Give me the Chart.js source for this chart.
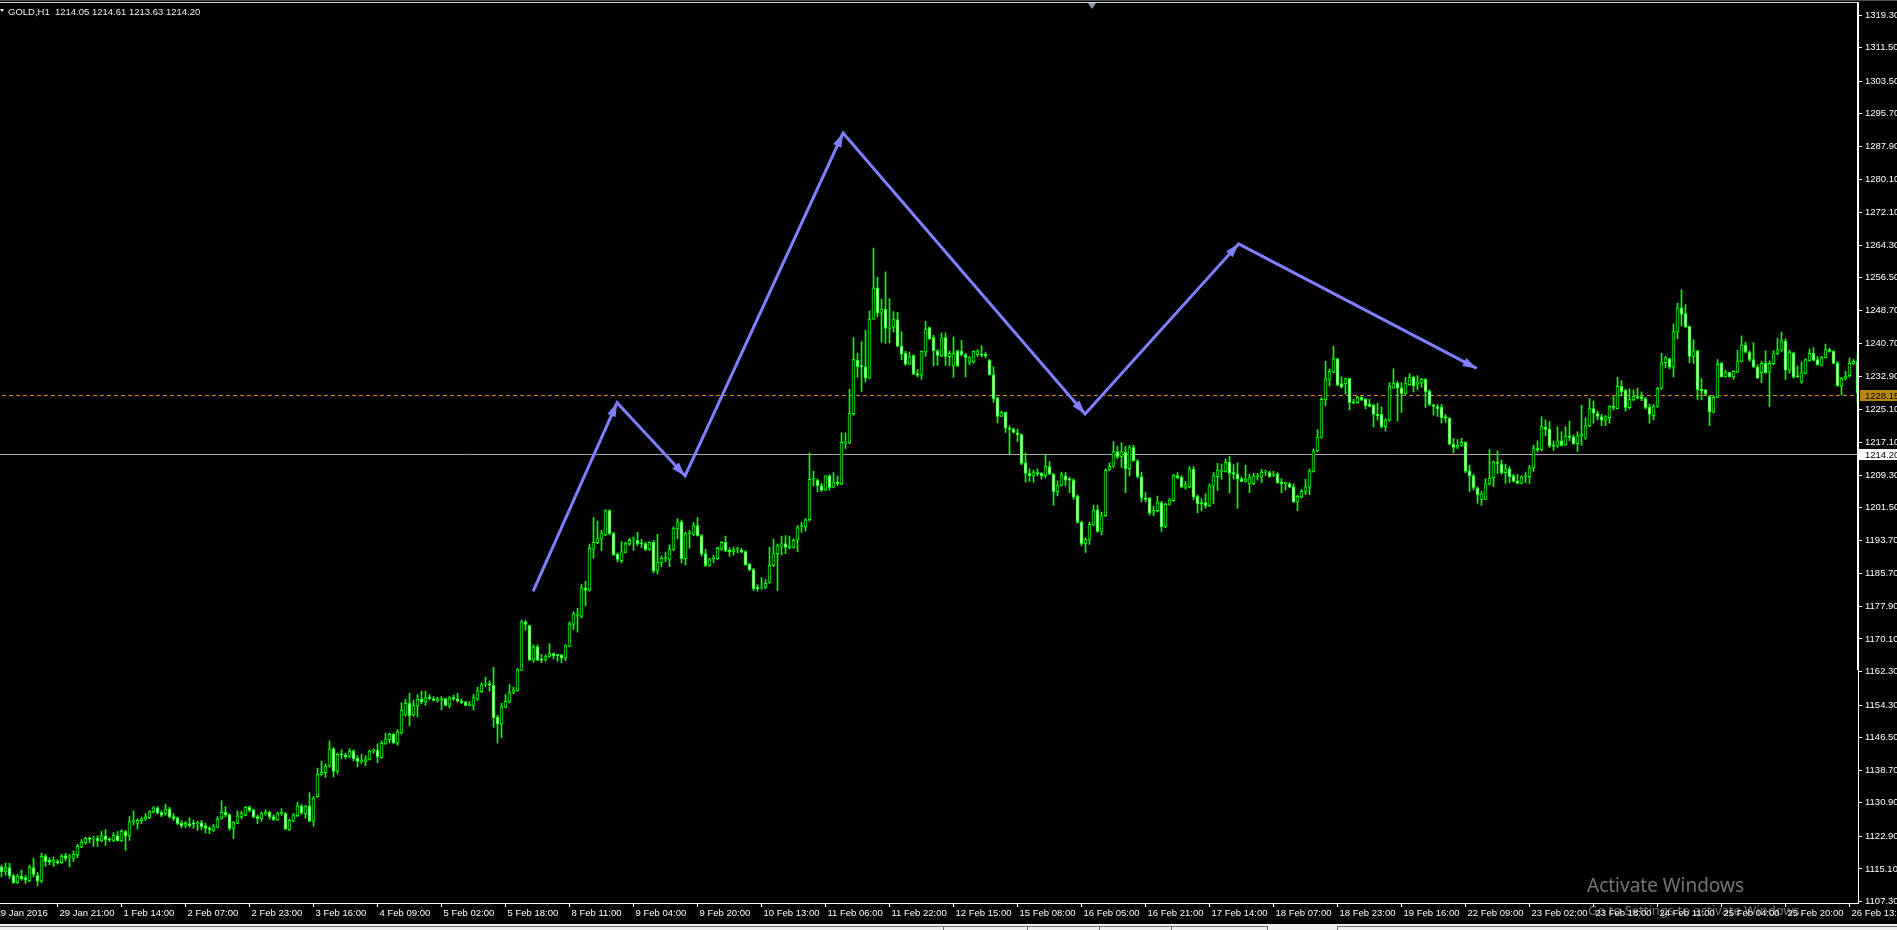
<!DOCTYPE html>
<html>
<head>
<meta charset="utf-8">
<title>GOLD,H1</title>
<script src="https://cdn.jsdelivr.net/npm/chart.js@4.4.1/dist/chart.umd.min.js"></script>
<style>
    html, body { margin: 0; padding: 0; background: #000; overflow: hidden; }
    #wrap { position: relative; width: 1897px; height: 930px; background: #000; }
    #gold_chart { position: absolute; left: 0; top: 0; }
    #header { position: absolute; left: 8px; top: 6px; color: #f0f0f0; font: 9.5px 'Liberation Sans', sans-serif; line-height: 11px; white-space: pre; }
    #menu_arrow { position: absolute; left: 0; top: 9px; width: 0; height: 0; border-left: 2px solid transparent; border-right: 2px solid transparent; border-top: 3px solid #fff; }
    #shift_mark { position: absolute; left: 1088px; top: 3px; width: 0; height: 0; border-left: 4px solid transparent; border-right: 4px solid transparent; border-top: 6px solid #8b9bab; }
    #wm1 { position: absolute; left: 1587px; top: 874px; color: rgba(255,255,255,0.45); font: 19px 'Noto Sans', sans-serif; line-height: 22px; white-space: nowrap; }
    #wm2 { position: absolute; left: 1588px; top: 902px; color: rgba(255,255,255,0.45); font: 13px 'Noto Sans', sans-serif; line-height: 16px; white-space: nowrap; }
    #tabs { position: absolute; left: 0; top: 924px; width: 1897px; height: 6px; background: #f0f0f0; }
    .tabline { position: absolute; top: 2px; height: 4px; border-top: 1px solid #6d6d6d; border-left: 1px solid #6d6d6d; }
</style>
</head>
<body>
<div id="wrap">
    <canvas id="gold_chart" width="1897" height="930"></canvas>
    <div id="menu_arrow"></div>
    <div id="header">GOLD,H1  1214.05 1214.61 1213.63 1214.20</div>
    <div id="shift_mark"></div>
    <div id="wm1">Activate Windows</div>
    <div id="wm2">Go to Settings to activate Windows.</div>
    <div id="tabs">
        <div class="tabline" style="left:0;width:943px;border-left:none"></div>
        <div class="tabline" style="left:943px;width:84px"></div>
        <div class="tabline" style="left:1027px;width:72px"></div>
        <div class="tabline" style="left:1099px;width:72px"></div>
        <div class="tabline" style="left:1171px;width:95px;border-right:1px solid #6d6d6d"></div>
        <div class="tabline" style="left:1337px;width:560px"></div>
    </div>
</div>
<script>
// GOLD H1 candles, 29 Jan 2016 - 26 Feb 2016
var opens = [
    1115.6, 1114.4, 1115.4, 1113.5, 1111.8, 1113.4, 1113.0, 1112.2, 1115.4, 1113.5,
    1112.2, 1118.1, 1117.2, 1116.5, 1116.8, 1116.6, 1118.3, 1117.9, 1117.6, 1118.4,
    1120.3, 1121.3, 1122.4, 1122.2, 1122.4, 1121.8, 1123.0, 1122.1, 1121.9, 1123.0,
    1121.8, 1124.0, 1123.0, 1126.4, 1126.0, 1126.6, 1127.0, 1127.3, 1128.7, 1129.7,
    1128.6, 1128.3, 1129.4, 1127.6, 1127.3, 1126.0, 1125.5, 1125.9, 1125.9, 1125.9,
    1126.2, 1125.4, 1124.9, 1124.3, 1125.1, 1127.2, 1128.6, 1128.1, 1124.8, 1126.0,
    1127.5, 1127.9, 1129.8, 1129.2, 1127.6, 1127.1, 1128.3, 1128.6, 1127.6, 1126.8,
    1128.3, 1128.3, 1124.5, 1126.5, 1127.8, 1130.2, 1128.3, 1130.2, 1126.5, 1132.4,
    1137.6, 1138.1, 1139.7, 1143.8, 1138.4, 1142.5, 1142.4, 1142.0, 1143.3, 1141.6,
    1140.8, 1140.8, 1141.3, 1143.4, 1143.5, 1141.7, 1145.0, 1146.0, 1147.3, 1145.2,
    1147.6, 1151.9, 1154.7, 1151.9, 1154.1, 1155.7, 1155.0, 1156.0, 1155.8, 1155.4,
    1155.6, 1155.8, 1154.2, 1156.1, 1155.8, 1155.2, 1155.0, 1154.2, 1154.2, 1155.7,
    1157.5, 1159.2, 1159.2, 1159.0, 1151.4, 1149.7, 1153.8, 1155.0, 1157.3, 1157.7,
    1162.6, 1174.2, 1173.3, 1165.0, 1168.2, 1165.3, 1165.2, 1165.9, 1166.6, 1166.2,
    1166.3, 1165.5, 1168.3, 1173.6, 1175.7, 1175.5, 1182.3, 1181.7, 1191.6, 1193.1,
    1194.0, 1195.0, 1200.8, 1195.3, 1190.4, 1188.8, 1190.8, 1192.8, 1193.8, 1193.7,
    1192.9, 1192.9, 1191.5, 1193.2, 1186.4, 1188.3, 1189.3, 1189.1, 1191.5, 1196.4,
    1198.1, 1189.3, 1195.3, 1195.1, 1197.2, 1194.8, 1190.5, 1187.7, 1189.3, 1189.3,
    1191.6, 1193.2, 1191.3, 1191.0, 1191.5, 1191.3, 1191.0, 1188.0, 1186.7, 1182.4,
    1182.3, 1182.5, 1183.6, 1187.7, 1190.5, 1192.1, 1192.9, 1192.0, 1192.0, 1193.7,
    1197.0, 1196.9, 1198.6, 1208.3, 1208.1, 1206.7, 1205.7, 1209.1, 1206.4, 1207.6,
    1207.2, 1217.0, 1217.0, 1224.0, 1236.8, 1235.5, 1235.2, 1232.5, 1246.6, 1254.1,
    1248.0, 1249.0, 1244.4, 1244.6, 1246.5, 1240.1, 1238.4, 1235.8, 1237.9, 1233.6,
    1233.2, 1238.7, 1244.6, 1242.2, 1239.0, 1237.8, 1242.2, 1237.6, 1235.4, 1239.0,
    1238.9, 1238.1, 1236.3, 1236.3, 1238.1, 1238.1, 1238.2, 1236.8, 1233.3, 1227.8,
    1223.3, 1224.3, 1220.5, 1220.3, 1219.4, 1219.0, 1212.2, 1209.7, 1209.1, 1209.9,
    1209.7, 1209.1, 1211.3, 1209.5, 1205.3, 1206.8, 1209.1, 1208.2, 1208.1, 1204.3,
    1198.0, 1192.9, 1193.9, 1197.3, 1201.0, 1195.8, 1199.6, 1210.5, 1211.4, 1214.9,
    1213.7, 1214.8, 1210.8, 1215.9, 1212.7, 1208.9, 1203.8, 1203.8, 1200.4, 1200.8,
    1202.7, 1196.9, 1202.3, 1203.2, 1209.2, 1208.8, 1206.4, 1206.4, 1210.8, 1204.2,
    1202.7, 1202.7, 1201.9, 1206.7, 1208.9, 1210.2, 1210.2, 1212.4, 1209.9, 1209.6,
    1208.4, 1207.8, 1207.2, 1207.2, 1208.9, 1208.8, 1210.0, 1209.9, 1209.3, 1209.6,
    1207.6, 1207.3, 1207.2, 1206.5, 1202.9, 1204.0, 1205.4, 1206.4, 1210.2, 1215.1,
    1218.3, 1227.3, 1232.2, 1233.9, 1237.1, 1231.2, 1231.1, 1232.4, 1226.8, 1226.6,
    1227.9, 1227.4, 1226.2, 1226.0, 1223.8, 1223.8, 1220.9, 1222.4, 1230.1, 1231.3,
    1230.1, 1228.7, 1230.9, 1232.7, 1231.0, 1231.3, 1232.2, 1229.3, 1226.0, 1225.7,
    1225.5, 1223.2, 1222.9, 1216.7, 1216.0, 1216.4, 1217.1, 1210.3, 1209.1, 1206.2,
    1203.5, 1203.5, 1207.2, 1208.7, 1212.4, 1211.9, 1209.9, 1210.8, 1209.2, 1207.9,
    1207.3, 1208.8, 1208.9, 1211.0, 1215.6, 1215.4, 1220.8, 1220.3, 1216.3, 1216.2,
    1217.5, 1216.5, 1218.6, 1218.4, 1216.8, 1218.7, 1218.1, 1221.1, 1225.2, 1224.0,
    1223.3, 1222.4, 1223.0, 1225.7, 1225.2, 1230.5, 1229.5, 1225.4, 1227.3, 1228.1,
    1228.1, 1227.6, 1225.5, 1223.5, 1225.7, 1230.0, 1236.2, 1237.1, 1235.1, 1243.5,
    1249.3, 1247.9, 1244.9, 1237.7, 1239.0, 1229.8, 1229.7, 1228.1, 1224.4, 1227.9,
    1236.0, 1232.8, 1233.8, 1232.8, 1233.9, 1236.5, 1240.4, 1238.7, 1236.9, 1235.2,
    1233.8, 1236.1, 1233.9, 1235.9, 1238.4, 1239.2, 1241.4, 1234.4, 1238.5, 1233.1,
    1231.6, 1233.6, 1236.6, 1238.4, 1236.9, 1235.5, 1237.4, 1239.3, 1238.9, 1236.1,
    1230.6, 1232.4, 1233.1, 1235.9, 1236.5
];
var highs = [
    1116.0, 1116.4, 1116.4, 1113.8, 1113.8, 1114.8, 1113.6, 1116.0, 1117.7, 1114.2,
    1118.9, 1118.6, 1117.8, 1118.0, 1117.3, 1118.6, 1118.8, 1118.6, 1119.4, 1121.0,
    1122.1, 1122.7, 1122.7, 1122.9, 1123.0, 1124.0, 1124.5, 1122.6, 1123.8, 1124.0,
    1124.5, 1124.3, 1127.6, 1129.0, 1127.1, 1127.5, 1128.3, 1129.0, 1130.0, 1130.0,
    1129.0, 1130.6, 1129.8, 1128.3, 1127.5, 1126.7, 1126.5, 1127.3, 1126.8, 1126.5,
    1126.7, 1126.0, 1125.2, 1125.7, 1127.6, 1131.4, 1130.0, 1128.3, 1126.5, 1129.0,
    1128.9, 1130.0, 1130.2, 1129.4, 1128.0, 1128.7, 1129.2, 1128.9, 1128.0, 1128.6,
    1129.5, 1128.6, 1127.0, 1128.3, 1131.0, 1130.5, 1130.3, 1133.3, 1132.4, 1139.2,
    1140.9, 1140.2, 1145.7, 1144.1, 1142.8, 1143.6, 1142.8, 1143.9, 1143.6, 1142.2,
    1142.5, 1142.2, 1143.5, 1143.8, 1145.0, 1145.7, 1147.6, 1147.6, 1147.6, 1148.4,
    1154.9, 1155.7, 1157.1, 1155.5, 1156.8, 1157.6, 1157.6, 1156.8, 1156.3, 1156.2,
    1156.3, 1156.0, 1156.3, 1156.6, 1157.1, 1155.8, 1155.2, 1155.2, 1156.8, 1158.5,
    1159.6, 1160.9, 1160.1, 1163.3, 1151.9, 1154.7, 1156.8, 1159.2, 1158.5, 1163.0,
    1174.6, 1174.5, 1173.4, 1168.7, 1168.7, 1166.4, 1166.3, 1169.0, 1166.8, 1166.4,
    1166.4, 1168.7, 1174.2, 1176.6, 1177.4, 1183.2, 1183.9, 1192.8, 1199.1, 1198.3,
    1196.1, 1201.0, 1201.0, 1195.6, 1190.7, 1193.4, 1193.2, 1194.2, 1194.5, 1195.6,
    1193.9, 1193.2, 1193.4, 1193.7, 1195.1, 1189.9, 1190.9, 1192.6, 1196.9, 1198.9,
    1198.5, 1195.6, 1196.1, 1198.0, 1199.1, 1195.1, 1191.6, 1189.4, 1190.1, 1192.1,
    1193.4, 1194.7, 1191.9, 1192.1, 1192.1, 1191.8, 1191.2, 1188.2, 1187.0, 1183.1,
    1184.8, 1184.4, 1192.0, 1194.0, 1192.8, 1194.7, 1194.8, 1194.7, 1194.0, 1197.2,
    1198.0, 1198.9, 1214.6, 1210.2, 1208.4, 1207.3, 1209.2, 1209.4, 1209.9, 1209.1,
    1219.4, 1219.4, 1229.8, 1242.2, 1238.5, 1241.2, 1243.9, 1248.5, 1263.6, 1256.6,
    1251.4, 1257.9, 1251.5, 1248.4, 1248.2, 1243.6, 1238.9, 1238.7, 1238.1, 1234.6,
    1239.0, 1246.1, 1244.7, 1242.8, 1239.3, 1243.3, 1243.3, 1239.0, 1242.3, 1239.2,
    1241.5, 1238.4, 1237.7, 1239.0, 1239.3, 1240.3, 1238.7, 1236.9, 1235.2, 1227.9,
    1224.6, 1224.4, 1221.1, 1220.6, 1220.3, 1219.2, 1214.6, 1210.8, 1210.5, 1210.8,
    1209.9, 1214.1, 1212.5, 1209.7, 1207.9, 1210.0, 1209.9, 1208.8, 1208.4, 1204.6,
    1198.3, 1194.2, 1198.0, 1202.1, 1202.1, 1200.4, 1210.8, 1212.2, 1217.3, 1216.2,
    1217.0, 1216.2, 1216.4, 1216.5, 1213.0, 1210.0, 1205.1, 1204.0, 1201.9, 1204.3,
    1203.0, 1202.6, 1203.7, 1209.5, 1209.9, 1209.1, 1207.8, 1211.3, 1211.3, 1204.6,
    1203.7, 1204.8, 1207.2, 1209.9, 1212.1, 1211.9, 1213.2, 1213.8, 1211.8, 1212.2,
    1208.8, 1211.6, 1209.5, 1209.7, 1209.7, 1210.7, 1210.5, 1210.2, 1210.2, 1209.9,
    1208.4, 1207.6, 1207.5, 1207.2, 1204.5, 1205.9, 1208.3, 1210.8, 1215.5, 1220.2,
    1227.8, 1236.5, 1234.7, 1240.1, 1237.3, 1232.8, 1232.5, 1232.5, 1227.4, 1228.2,
    1228.1, 1227.6, 1227.4, 1226.3, 1226.5, 1225.6, 1222.8, 1231.4, 1234.7, 1231.7,
    1231.4, 1232.7, 1233.6, 1233.0, 1233.1, 1232.4, 1232.4, 1229.7, 1226.3, 1226.2,
    1226.2, 1223.8, 1223.0, 1218.1, 1217.8, 1218.1, 1217.3, 1211.7, 1209.5, 1206.5,
    1205.4, 1208.4, 1215.4, 1212.7, 1215.1, 1212.9, 1211.9, 1211.3, 1209.5, 1209.5,
    1209.2, 1209.9, 1211.6, 1216.4, 1217.5, 1223.2, 1222.5, 1222.1, 1217.5, 1220.9,
    1219.7, 1220.9, 1222.2, 1218.9, 1219.7, 1226.0, 1223.0, 1227.6, 1227.0, 1224.6,
    1223.8, 1223.5, 1225.9, 1228.1, 1232.7, 1231.9, 1229.8, 1230.0, 1229.7, 1230.1,
    1229.2, 1227.9, 1226.3, 1226.2, 1230.3, 1238.4, 1237.7, 1237.3, 1245.5, 1250.4,
    1253.6, 1250.1, 1245.0, 1241.7, 1239.2, 1232.4, 1229.8, 1228.4, 1228.2, 1236.9,
    1236.3, 1234.4, 1233.9, 1234.3, 1239.2, 1242.6, 1241.1, 1239.0, 1240.9, 1235.7,
    1236.5, 1239.0, 1236.6, 1239.0, 1242.0, 1243.5, 1241.9, 1239.2, 1238.7, 1235.4,
    1236.3, 1237.1, 1239.5, 1239.8, 1237.7, 1237.7, 1240.6, 1239.6, 1239.0, 1236.5,
    1232.7, 1234.1, 1237.3, 1236.9, 1238.4
];
var lows = [
    1113.2, 1113.6, 1112.8, 1111.6, 1111.6, 1112.4, 1111.6, 1112.0, 1113.2, 1111.0,
    1111.8, 1115.7, 1116.1, 1115.7, 1116.2, 1116.4, 1117.0, 1115.6, 1116.8, 1117.8,
    1120.2, 1121.0, 1121.3, 1120.5, 1120.5, 1121.6, 1120.7, 1121.6, 1121.6, 1121.8,
    1121.6, 1119.5, 1121.9, 1125.6, 1124.6, 1125.9, 1126.7, 1127.1, 1128.4, 1128.3,
    1127.6, 1127.9, 1127.3, 1126.7, 1125.7, 1124.9, 1124.9, 1125.1, 1124.8, 1124.3,
    1124.5, 1123.7, 1123.5, 1124.0, 1124.9, 1127.0, 1127.5, 1124.3, 1122.4, 1125.9,
    1127.0, 1127.8, 1128.7, 1127.3, 1126.0, 1126.5, 1127.9, 1127.0, 1126.7, 1126.7,
    1127.9, 1124.5, 1124.3, 1126.4, 1127.6, 1128.1, 1127.2, 1126.4, 1125.3, 1132.2,
    1137.5, 1137.0, 1139.4, 1137.1, 1137.8, 1141.4, 1141.4, 1141.7, 1140.9, 1139.5,
    1140.3, 1139.8, 1141.1, 1142.8, 1140.5, 1141.6, 1144.9, 1145.2, 1145.1, 1144.7,
    1147.3, 1151.7, 1149.3, 1151.6, 1151.4, 1154.6, 1154.2, 1155.5, 1155.2, 1154.9,
    1153.1, 1154.1, 1153.6, 1155.4, 1155.0, 1154.6, 1154.1, 1154.1, 1153.1, 1155.4,
    1157.3, 1158.7, 1157.6, 1149.0, 1145.2, 1146.5, 1153.6, 1154.8, 1157.0, 1157.6,
    1162.5, 1172.2, 1164.9, 1164.5, 1164.9, 1164.4, 1164.7, 1165.7, 1165.3, 1164.7,
    1164.4, 1164.9, 1168.2, 1172.3, 1171.7, 1175.2, 1178.0, 1181.5, 1189.4, 1192.9,
    1191.3, 1194.8, 1195.0, 1190.1, 1188.5, 1188.3, 1190.7, 1192.4, 1191.3, 1192.4,
    1192.0, 1191.2, 1191.3, 1185.9, 1185.6, 1187.4, 1188.6, 1187.4, 1191.2, 1194.0,
    1188.3, 1187.8, 1191.8, 1194.8, 1194.7, 1189.9, 1187.4, 1187.5, 1188.3, 1189.1,
    1191.3, 1191.0, 1189.9, 1190.2, 1190.7, 1190.7, 1187.7, 1186.4, 1181.7, 1181.5,
    1182.0, 1182.1, 1183.4, 1187.4, 1181.7, 1190.2, 1190.5, 1191.6, 1191.8, 1191.0,
    1195.6, 1195.9, 1198.3, 1206.7, 1205.3, 1205.3, 1205.6, 1205.7, 1206.2, 1206.7,
    1207.0, 1215.7, 1216.8, 1223.6, 1232.7, 1229.3, 1231.6, 1232.4, 1246.5, 1247.1,
    1241.1, 1240.8, 1240.9, 1243.5, 1240.0, 1236.9, 1235.5, 1235.7, 1233.3, 1232.8,
    1232.2, 1237.7, 1241.7, 1235.4, 1235.5, 1237.6, 1235.5, 1235.4, 1232.7, 1235.2,
    1237.8, 1232.8, 1235.7, 1236.0, 1237.6, 1237.6, 1237.3, 1233.2, 1226.7, 1221.8,
    1223.3, 1219.5, 1214.3, 1219.4, 1217.3, 1211.8, 1207.6, 1207.8, 1207.6, 1209.1,
    1208.3, 1208.6, 1209.4, 1202.1, 1204.3, 1206.7, 1206.7, 1205.1, 1203.5, 1197.8,
    1192.4, 1190.8, 1192.7, 1197.2, 1195.6, 1195.0, 1199.4, 1210.3, 1211.1, 1213.2,
    1211.1, 1205.1, 1209.1, 1212.6, 1208.6, 1202.9, 1202.9, 1199.7, 1199.6, 1200.5,
    1195.8, 1196.7, 1202.1, 1203.0, 1208.4, 1206.2, 1205.9, 1206.2, 1203.4, 1200.3,
    1200.7, 1201.4, 1201.8, 1202.5, 1205.6, 1208.3, 1210.0, 1205.0, 1208.3, 1201.3,
    1207.6, 1207.6, 1205.1, 1207.0, 1208.1, 1207.5, 1209.2, 1208.8, 1208.9, 1207.3,
    1205.1, 1205.7, 1206.2, 1202.7, 1200.8, 1203.8, 1204.6, 1204.6, 1210.0, 1214.9,
    1218.1, 1225.9, 1230.6, 1233.8, 1230.6, 1230.1, 1228.7, 1224.9, 1226.3, 1226.5,
    1227.1, 1225.2, 1225.6, 1220.8, 1222.4, 1220.5, 1219.8, 1222.2, 1230.0, 1222.2,
    1224.3, 1228.6, 1230.8, 1229.2, 1229.7, 1230.3, 1225.5, 1225.9, 1223.6, 1223.3,
    1221.7, 1221.9, 1216.5, 1214.6, 1215.6, 1216.2, 1209.9, 1205.4, 1205.7, 1202.6,
    1202.1, 1203.4, 1206.9, 1206.5, 1209.7, 1209.5, 1207.3, 1207.5, 1207.6, 1207.2,
    1207.2, 1207.5, 1207.3, 1210.2, 1214.8, 1215.1, 1218.7, 1215.9, 1215.2, 1215.9,
    1216.2, 1216.4, 1217.5, 1216.7, 1214.9, 1216.4, 1217.8, 1220.9, 1221.7, 1222.5,
    1221.1, 1221.1, 1221.7, 1224.9, 1225.1, 1228.2, 1224.6, 1225.1, 1227.1, 1227.5,
    1227.1, 1225.1, 1221.7, 1222.5, 1225.5, 1229.8, 1234.9, 1234.7, 1232.8, 1241.9,
    1244.9, 1244.6, 1236.2, 1236.0, 1227.3, 1227.3, 1228.4, 1221.1, 1224.1, 1227.8,
    1232.7, 1232.7, 1232.7, 1232.2, 1233.8, 1236.3, 1238.5, 1236.5, 1234.9, 1232.4,
    1231.4, 1233.6, 1225.7, 1235.7, 1238.1, 1238.9, 1232.2, 1233.6, 1232.5, 1232.7,
    1231.2, 1233.5, 1236.5, 1236.6, 1235.5, 1235.4, 1237.3, 1238.7, 1235.9, 1230.5,
    1228.4, 1232.0, 1232.7, 1235.7, 1226.3
];
var closes = [
    1114.4, 1115.4, 1113.4, 1111.8, 1113.4, 1112.7, 1112.4, 1115.4, 1113.8, 1112.2,
    1118.1, 1116.8, 1116.7, 1117.2, 1116.6, 1118.1, 1117.6, 1118.0, 1118.6, 1120.5,
    1121.5, 1122.4, 1122.2, 1122.3, 1121.8, 1123.0, 1122.1, 1122.0, 1123.1, 1121.8,
    1124.1, 1123.0, 1126.4, 1126.5, 1126.7, 1127.1, 1127.5, 1128.8, 1129.7, 1128.4,
    1127.9, 1129.4, 1127.5, 1127.1, 1125.9, 1125.4, 1126.0, 1125.4, 1125.8, 1126.2,
    1125.2, 1124.8, 1124.5, 1125.2, 1127.0, 1128.6, 1128.0, 1124.8, 1126.2, 1127.8,
    1128.3, 1129.8, 1129.1, 1127.5, 1127.1, 1128.3, 1128.6, 1127.5, 1126.8, 1128.3,
    1128.6, 1124.6, 1126.7, 1128.0, 1130.2, 1128.4, 1130.0, 1126.5, 1132.1, 1137.8,
    1138.2, 1139.7, 1143.8, 1138.4, 1142.5, 1142.4, 1141.9, 1143.3, 1141.4, 1140.8,
    1140.9, 1141.4, 1143.3, 1143.5, 1141.9, 1145.2, 1146.2, 1147.3, 1145.2, 1147.8,
    1153.0, 1154.7, 1151.7, 1154.2, 1155.7, 1155.0, 1156.1, 1155.9, 1155.4, 1155.7,
    1155.8, 1154.2, 1156.1, 1155.8, 1155.2, 1154.9, 1154.2, 1154.5, 1156.1, 1157.7,
    1159.2, 1159.3, 1159.1, 1151.2, 1149.7, 1153.9, 1155.2, 1157.3, 1157.9, 1162.8,
    1174.2, 1173.6, 1165.0, 1168.2, 1165.0, 1165.0, 1166.0, 1166.6, 1166.0, 1166.1,
    1165.5, 1168.5, 1173.7, 1176.1, 1176.1, 1182.3, 1181.7, 1191.8, 1193.2, 1194.2,
    1195.4, 1200.8, 1195.3, 1190.2, 1189.1, 1191.0, 1192.9, 1193.7, 1193.9, 1192.9,
    1192.8, 1191.5, 1193.2, 1186.3, 1188.5, 1189.4, 1189.4, 1191.6, 1196.6, 1198.1,
    1189.3, 1195.3, 1195.4, 1197.2, 1194.8, 1190.4, 1187.7, 1189.1, 1189.4, 1191.8,
    1193.2, 1191.2, 1191.0, 1191.5, 1191.7, 1191.0, 1187.8, 1186.7, 1182.1, 1182.1,
    1182.5, 1183.4, 1187.7, 1190.5, 1192.4, 1192.9, 1192.0, 1192.3, 1193.7, 1196.7,
    1197.2, 1198.6, 1208.3, 1208.4, 1206.7, 1205.7, 1209.1, 1206.2, 1207.6, 1207.3,
    1217.1, 1217.1, 1224.0, 1237.0, 1235.2, 1235.2, 1232.5, 1246.6, 1254.1, 1248.0,
    1249.0, 1244.4, 1244.7, 1246.6, 1240.1, 1238.2, 1235.8, 1237.6, 1233.5, 1233.2,
    1238.9, 1244.2, 1241.9, 1239.0, 1237.9, 1242.2, 1237.6, 1238.4, 1238.4, 1235.4,
    1238.1, 1237.4, 1237.4, 1238.9, 1239.0, 1238.0, 1237.8, 1233.3, 1227.6, 1223.3,
    1224.3, 1220.5, 1220.2, 1219.5, 1218.9, 1212.1, 1209.7, 1209.1, 1209.9, 1209.6,
    1209.1, 1211.4, 1209.5, 1205.3, 1206.8, 1209.4, 1208.1, 1208.1, 1204.0, 1198.0,
    1192.9, 1193.9, 1197.5, 1200.8, 1195.8, 1199.6, 1210.5, 1211.4, 1214.9, 1213.7,
    1214.9, 1210.8, 1215.9, 1212.7, 1208.9, 1203.8, 1203.5, 1200.2, 1200.8, 1202.7,
    1196.9, 1202.3, 1203.4, 1209.2, 1208.6, 1206.4, 1207.0, 1210.8, 1204.0, 1202.4,
    1202.4, 1201.9, 1206.7, 1209.1, 1210.5, 1210.5, 1212.4, 1209.7, 1209.6, 1208.3,
    1207.8, 1208.4, 1208.8, 1209.1, 1209.0, 1210.0, 1210.2, 1208.9, 1209.6, 1207.5,
    1207.2, 1207.4, 1206.4, 1202.9, 1204.2, 1205.4, 1206.5, 1210.3, 1215.1, 1218.4,
    1227.4, 1232.4, 1234.1, 1237.1, 1230.8, 1230.3, 1232.4, 1226.6, 1226.6, 1227.9,
    1227.3, 1225.9, 1225.7, 1223.8, 1223.5, 1220.9, 1222.5, 1230.5, 1231.3, 1230.1,
    1228.7, 1231.3, 1232.7, 1230.6, 1231.6, 1232.2, 1229.2, 1226.2, 1225.7, 1225.2,
    1223.0, 1222.9, 1216.7, 1215.9, 1216.5, 1217.1, 1210.2, 1209.1, 1206.2, 1204.6,
    1204.8, 1207.2, 1208.6, 1212.4, 1212.1, 1209.9, 1210.8, 1208.9, 1207.8, 1207.3,
    1208.8, 1209.1, 1211.0, 1215.6, 1215.4, 1221.0, 1220.2, 1216.2, 1216.2, 1217.5,
    1216.4, 1218.6, 1218.3, 1216.8, 1218.7, 1219.1, 1221.1, 1225.2, 1224.1, 1223.3,
    1222.4, 1223.2, 1225.7, 1225.5, 1230.5, 1229.2, 1225.4, 1227.5, 1228.1, 1227.8,
    1227.6, 1225.4, 1223.8, 1225.7, 1230.0, 1236.2, 1237.4, 1235.1, 1243.6, 1249.3,
    1247.7, 1244.7, 1237.7, 1239.0, 1229.7, 1229.4, 1228.7, 1224.4, 1227.9, 1235.8,
    1232.8, 1233.8, 1232.8, 1234.1, 1236.6, 1240.4, 1238.7, 1236.9, 1235.2, 1232.5,
    1236.0, 1233.8, 1236.0, 1238.5, 1239.3, 1241.4, 1234.4, 1238.7, 1232.7, 1232.8,
    1233.8, 1236.9, 1238.4, 1236.8, 1235.7, 1237.4, 1239.3, 1238.9, 1236.0, 1230.6,
    1232.5, 1233.0, 1236.0, 1236.5, 1228.9
];

// time axis: bar index of each label and its text
var xTickBars = [-2, 14, 30, 46, 62, 78, 94, 110, 126, 142, 158, 174, 190, 206, 222, 238,
    254, 270, 286, 302, 318, 334, 350, 366, 382, 398, 414, 430, 446, 462];
var xTickLabels = ['29 Jan 2016', '29 Jan 21:00', '1 Feb 14:00', '2 Feb 07:00', '2 Feb 23:00',
    '3 Feb 16:00', '4 Feb 09:00', '5 Feb 02:00', '5 Feb 18:00', '8 Feb 11:00', '9 Feb 04:00',
    '9 Feb 20:00', '10 Feb 13:00', '11 Feb 06:00', '11 Feb 22:00', '12 Feb 15:00', '15 Feb 08:00',
    '16 Feb 05:00', '16 Feb 21:00', '17 Feb 14:00', '18 Feb 07:00', '18 Feb 23:00', '19 Feb 16:00',
    '22 Feb 09:00', '23 Feb 02:00', '23 Feb 18:00', '24 Feb 11:00', '25 Feb 04:00', '25 Feb 20:00',
    '26 Feb 13:00'];

// price axis labels as MT4 shows them
var yTickValues = [1319.30, 1311.50, 1303.50, 1295.70, 1287.90, 1280.10, 1272.10, 1264.30,
    1256.50, 1248.70, 1240.70, 1232.90, 1225.10, 1217.10, 1209.30, 1201.50, 1193.70, 1185.70,
    1177.90, 1170.10, 1162.30, 1154.30, 1146.50, 1138.70, 1130.90, 1122.90, 1115.10, 1107.30];

var BID_PRICE = 1214.20;
var ASK_PRICE = 1228.15;

// hand drawn arrow polyline (bar index, price)
var arrowBars = [132.9, 153.9, 170.9, 210.4, 270.9, 309.3, 368.8];
var arrowPrices = [1181.5, 1226.6, 1209.1, 1291.1, 1223.9, 1264.6, 1234.8];

var X_MIN = -0.375, X_MAX = 464.125;
var Y_MIN = 1106.94, Y_MAX = 1320.85;

var LIME = '#00ff00';
var AXIS_FONT = { family: "'Liberation Sans', sans-serif", size: 9.5 };

var bodies = [];
var wicks = [];
for (var i = 0; i < opens.length; i++) {
    bodies.push({ x: i, y: [opens[i], closes[i]] });
    wicks.push({ x: i, y: [lows[i], highs[i]] });
}
var arrowPoints = arrowBars.map(function(b, i) { return { x: b, y: arrowPrices[i] }; });

function crisp(p) { return Math.floor(p - 0.5) + 0.5; }

var mt4Plugin = {
    id: 'mt4',
    beforeDatasetsDraw: function(chart) {
        var ctx = chart.ctx, a = chart.chartArea, ys = chart.scales.y;
        ctx.save();
        ctx.beginPath();
        ctx.rect(a.left, a.top, a.right - a.left, a.bottom - a.top);
        ctx.clip();
        ctx.lineWidth = 1;
        var by = crisp(ys.getPixelForValue(BID_PRICE));
        ctx.strokeStyle = '#a8a8a8';
        ctx.beginPath(); ctx.moveTo(a.left, by); ctx.lineTo(a.right, by); ctx.stroke();
        var ay = crisp(ys.getPixelForValue(ASK_PRICE));
        ctx.strokeStyle = '#d98c0c';
        ctx.setLineDash([4, 3]);
        ctx.beginPath(); ctx.moveTo(a.left + 2, ay); ctx.lineTo(a.right, ay); ctx.stroke();
        ctx.restore();
    },
    afterDatasetsDraw: function(chart) {
        // arrow heads at the end of each leg
        var ctx = chart.ctx;
        var pts = chart.getDatasetMeta(2).data;
        var L = 14, W = 4.5;
        ctx.save();
        ctx.fillStyle = '#7f7fff';
        for (var i = 1; i < pts.length; i++) {
            var x1 = pts[i - 1].x, y1 = pts[i - 1].y, x2 = pts[i].x, y2 = pts[i].y;
            var ang = Math.atan2(y2 - y1, x2 - x1);
            var c = Math.cos(ang), s = Math.sin(ang);
            ctx.beginPath();
            ctx.moveTo(x2, y2);
            ctx.lineTo(x2 - L * c + W * s, y2 - L * s - W * c);
            ctx.lineTo(x2 - L * c - W * s, y2 - L * s + W * c);
            ctx.closePath();
            ctx.fill();
        }
        ctx.restore();
    },
    afterDraw: function(chart) {
        var ctx = chart.ctx, a = chart.chartArea, ys = chart.scales.y;
        ctx.save();
        // frame
        ctx.fillStyle = '#505050';
        ctx.fillRect(0, 0, chart.width, 1);
        ctx.fillStyle = '#d8d8d8';
        ctx.fillRect(0, 2, a.right, 1);
        ctx.fillStyle = '#ffffff';
        ctx.fillRect(a.right - 1, 2, 2, 668);
        ctx.fillRect(a.right, 670, 1, a.bottom - 670 + 1);
        ctx.fillRect(0, a.bottom, a.right + 1, 1);
        // ask / bid price tags
        ctx.font = "9.5px 'Liberation Sans', sans-serif";
        ctx.textBaseline = 'middle';
        var ay = Math.round(ys.getPixelForValue(ASK_PRICE));
        ctx.fillStyle = '#b8860b';
        ctx.fillRect(a.right + 2, ay - 6, chart.width - a.right - 2, 11);
        ctx.fillStyle = '#000000';
        ctx.fillText(ASK_PRICE.toFixed(2), a.right + 7, ay);
        var by = Math.round(ys.getPixelForValue(BID_PRICE));
        ctx.fillStyle = '#ffffff';
        ctx.fillRect(a.right + 1, by - 6, chart.width - a.right - 1, 11);
        ctx.fillStyle = '#000000';
        ctx.fillText(BID_PRICE.toFixed(2), a.right + 7, by);
        ctx.restore();
    }
};

var ctx = document.getElementById('gold_chart').getContext('2d');

var goldChart = new Chart(ctx, {
    type: 'bar',
    data: {
        datasets: [
            {
                label: 'Body',
                data: bodies,
                order: 1,
                grouped: false,
                barThickness: 3,
                borderWidth: 1,
                borderSkipped: false,
                minBarLength: 1,
                borderColor: LIME,
                backgroundColor: function(c) {
                    var k = c.dataIndex;
                    return closes[k] >= opens[k] ? '#000000' : '#ffffff';
                }
            },
            {
                label: 'Wick',
                data: wicks,
                order: 2,
                grouped: false,
                barThickness: 1,
                borderWidth: 0,
                backgroundColor: LIME
            },
            {
                type: 'line',
                label: 'Arrows',
                data: arrowPoints,
                order: 0,
                borderColor: '#7f7fff',
                borderWidth: 3,
                pointRadius: 0,
                tension: 0,
                fill: false
            }
        ]
    },
    options: {
        responsive: false,
        devicePixelRatio: 1,
        animation: false,
        layout: { padding: { top: 3, left: 0, right: 0, bottom: 0 } },
        plugins: {
            legend: { display: false },
            tooltip: { enabled: false },
            title: { display: false }
        },
        scales: {
            x: {
                type: 'linear',
                min: X_MIN,
                max: X_MAX,
                offset: false,
                grid: { display: true, offset: false, drawOnChartArea: false, drawTicks: true, tickLength: 4, tickColor: '#ffffff' },
                border: { display: false },
                afterBuildTicks: function(scale) {
                    scale.ticks = xTickBars.map(function(v) { return { value: v }; });
                },
                afterFit: function(scale) {
                    scale.height = 27;
                    scale.paddingLeft = 0;
                    scale.paddingRight = 0;
                },
                ticks: {
                    autoSkip: false,
                    maxRotation: 0,
                    minRotation: 0,
                    align: 'start',
                    labelOffset: 2,
                    padding: 1,
                    color: '#ffffff',
                    font: AXIS_FONT,
                    callback: function(value, index) { return xTickLabels[index]; }
                }
            },
            y: {
                type: 'linear',
                position: 'right',
                min: Y_MIN,
                max: Y_MAX,
                beginAtZero: false,
                grid: { display: true, drawOnChartArea: false, drawTicks: true, tickLength: 4, tickColor: '#ffffff' },
                border: { display: false },
                afterBuildTicks: function(scale) {
                    scale.ticks = yTickValues.map(function(v) { return { value: v }; });
                },
                afterFit: function(scale) {
                    scale.width = 39;
                },
                ticks: {
                    autoSkip: false,
                    padding: 3,
                    color: '#ffffff',
                    font: AXIS_FONT,
                    callback: function(value) { return value.toFixed(2); }
                }
            }
        }
    },
    plugins: [mt4Plugin]
});
</script>
</body>
</html>
